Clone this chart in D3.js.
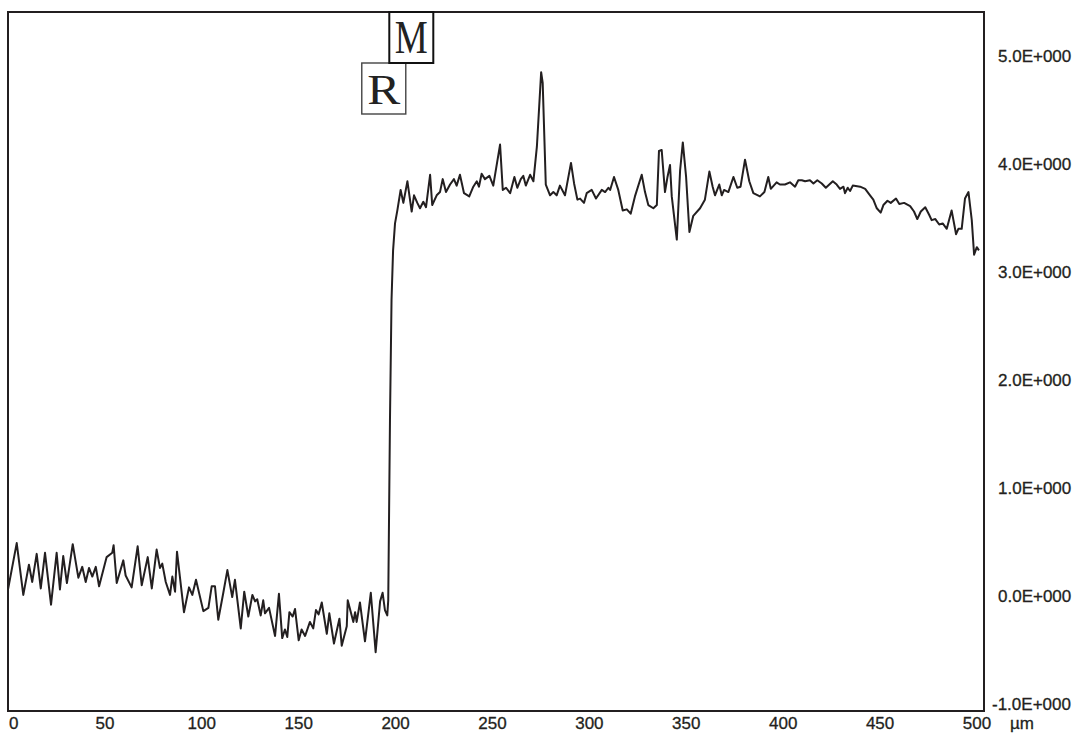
<!DOCTYPE html>
<html lang="en">
<head>
    <meta charset="UTF-8">
    <title>Step height profile</title>
    <script src="https://d3js.org/d3.v7.min.js"></script>
    <style>
        body { margin: 0; background: #fff; }
    </style>
</head>
<body>
<svg id="profile" width="1076" height="735"></svg>

<script>
    // scan position along the trace (um)
    const positionsUm = [
        0, 4.5, 7.9, 10.8, 12.5, 14.8, 16.9, 19.1, 22.2, 25.1, 26.8, 28.5, 30.4, 33.4, 36.3, 38.3, 40.1, 41.8, 43.5, 45.3,
        47.0, 50.9, 53.8, 54.5, 56.1, 59.5, 60.7, 63.8, 66.9, 69.0, 72.1, 74.2, 76.7, 78.4, 79.6, 81.4, 83.6, 84.8, 86.2, 87.2,
        90.8, 93.4, 95.1, 97.0, 100.8, 103.4, 105.1, 106.8, 108.5, 111.1, 113.2, 115.7, 117.1, 120.1, 121.9, 124.0, 126.1, 127.5, 128.6, 130.4,
        131.7, 132.6, 134.7, 137.8, 139.8, 141.5, 142.9, 144.1, 145.2, 146.9, 148.1, 150.0, 151.5, 153.3, 155.8, 157.5, 158.9, 160.3, 161.9, 164.5,
        165.8, 168.2, 171.0, 172.2, 174.8, 175.3, 178.2, 179.1, 179.9, 181.6, 184.2, 187.2, 189.7, 192.0, 193.3, 194.5, 195.7, 196.2, 197.1, 197.9,
        198.7, 199.7, 200.9, 202.6, 204.0, 206.1, 208.3, 209.5, 211.2, 212.6, 214.3, 215.7, 217.8, 218.9, 221.2, 222.9, 224.3, 226.0, 228.1, 230.1,
        231.5, 233.2, 235.3, 238.0, 240.1, 241.9, 243.0, 244.4, 246.1, 248.4, 250.4, 253.9, 255.3, 257.0, 259.1, 261.3, 262.8, 264.6, 265.9, 267.2,
        269.4, 271.1, 272.9, 275.1, 275.9, 277.5, 279.7, 281.4, 283.1, 284.8, 287.4, 290.5, 292.1, 293.8, 295.2, 297.2, 298.6, 301.2, 303.4, 306.4,
        308.1, 309.8, 310.7, 312.7, 314.9, 317.2, 319.3, 321.3, 323.5, 327.0, 328.7, 330.4, 333.0, 334.8, 335.9, 337.3, 339.0, 340.3, 341.6, 342.5,
        345.1, 346.8, 348.2, 349.9, 351.6, 353.6, 357.1, 359.6, 361.9, 363.6, 364.8, 367.0, 368.3, 369.5, 371.7, 374.3, 376.3, 378.0, 380.3, 382.5,
        384.6, 388.0, 390.3, 392.3, 393.6, 396.6, 398.3, 400.9, 403.5, 406.1, 407.8, 409.6, 411.3, 413.8, 415.6, 417.6, 419.9, 422.0, 425.6, 427.6,
        429.3, 431.1, 431.9, 433.3, 434.5, 435.9, 439.7, 442.3, 444.8, 446.5, 448.3, 450.3, 451.7, 453.8, 455.5, 458.2, 459.9, 462.4, 465.5, 467.5,
        469.2, 471.0, 473.3, 475.3, 476.6, 478.5, 480.5, 482.3, 484.4, 486.9, 489.2, 490.4, 492.1, 493.8, 495.6, 497.3, 498.5, 499.9, 501.0
    ];

    // measured height at each position
    const heightValues = [
        0.06, 0.49, 0.01, 0.29, 0.13, 0.39, 0.07, 0.40, -0.08, 0.40, 0.06, 0.37, 0.12, 0.48, 0.17, 0.27, 0.13, 0.26, 0.18, 0.27,
        0.09, 0.36, 0.40, 0.47, 0.12, 0.33, 0.19, 0.08, 0.46, 0.10, 0.36, 0.07, 0.43, 0.26, 0.30, 0.13, 0.01, 0.18, 0.04, 0.41,
        -0.15, 0.08, 0.01, 0.15, -0.14, -0.11, 0.09, 0.09, -0.22, 0.03, 0.24, -0.01, 0.15, -0.30, 0.04, -0.19, 0.01, -0.05, -0.03, -0.18,
        -0.04, -0.16, -0.11, -0.37, 0.02, -0.39, -0.31, -0.38, -0.15, -0.19, -0.12, -0.41, -0.31, -0.37, -0.24, -0.30, -0.13, -0.17, -0.06, -0.35,
        -0.16, -0.44, -0.21, -0.46, -0.28, -0.04, -0.24, -0.15, -0.24, -0.06, -0.42, 0.03, -0.52, -0.05, 0.03, -0.13, -0.18, -0.04, 1.63, 2.74,
        3.20, 3.45, 3.57, 3.76, 3.64, 3.84, 3.56, 3.71, 3.64, 3.59, 3.65, 3.60, 3.90, 3.62, 3.71, 3.74, 3.86, 3.74, 3.81, 3.86,
        3.80, 3.90, 3.73, 3.70, 3.79, 3.84, 3.79, 3.91, 3.86, 3.89, 3.80, 4.18, 3.76, 3.78, 3.73, 3.88, 3.78, 3.86, 3.89, 3.80,
        3.90, 3.84, 4.16, 4.85, 4.75, 3.81, 3.71, 3.74, 3.71, 3.80, 3.71, 4.01, 3.82, 3.67, 3.68, 3.64, 3.73, 3.76, 3.68, 3.76,
        3.74, 3.78, 3.76, 3.88, 3.76, 3.57, 3.58, 3.54, 3.70, 3.90, 3.74, 3.62, 3.59, 3.62, 4.12, 4.13, 3.74, 3.88, 3.99, 3.70,
        3.30, 3.94, 4.20, 3.88, 3.37, 3.52, 3.59, 3.67, 3.93, 3.79, 3.71, 3.81, 3.71, 3.76, 3.74, 3.88, 3.78, 3.79, 4.04, 3.84,
        3.73, 3.70, 3.74, 3.88, 3.77, 3.83, 3.81, 3.81, 3.83, 3.79, 3.85, 3.85, 3.84, 3.85, 3.82, 3.85, 3.82, 3.78, 3.84, 3.81,
        3.77, 3.79, 3.73, 3.78, 3.75, 3.80, 3.79, 3.77, 3.71, 3.67, 3.59, 3.55, 3.62, 3.66, 3.64, 3.68, 3.63, 3.64, 3.61, 3.56,
        3.49, 3.56, 3.60, 3.53, 3.48, 3.49, 3.44, 3.45, 3.40, 3.57, 3.35, 3.40, 3.40, 3.68, 3.74, 3.48, 3.16, 3.23, 3.20
    ];

    const xTicks = [0, 50, 100, 150, 200, 250, 300, 350, 400, 450, 500];
    const yTicks = [-1, 0, 1, 2, 3, 4, 5];
    const yTickLabels = ["-1.0E+000", "0.0E+000", "1.0E+000", "2.0E+000", "3.0E+000", "4.0E+000", "5.0E+000"];
    const xUnit = "\u00b5m";

    // cursor markers (M = measure, R = reference)
    const markerLabels = ["M", "R"];
    const markerUm = [208.1, 193.9];

    const svg = d3.select("#profile");
    const ink = "#231f20";
    const labelFont = "'Liberation Sans', Arial, sans-serif";

    const frame = { left: 8, top: 12, right: 984, bottom: 711 };

    const x = d3.scaleLinear().domain([0, 500]).range([8, 977]);
    const y = d3.scaleLinear().domain([-1, 5]).range([704, 56]);

    // plot frame
    svg.append("rect")
        .attr("x", frame.left)
        .attr("y", frame.top)
        .attr("width", frame.right - frame.left)
        .attr("height", frame.bottom - frame.top)
        .attr("fill", "none")
        .attr("stroke", ink)
        .attr("stroke-width", 2);

    // profile trace
    const points = positionsUm.map((p, i) => [p, heightValues[i]]);
    const line = d3.line()
        .x(d => x(d[0]))
        .y(d => y(d[1]));

    svg.append("path")
        .datum(points)
        .attr("d", line)
        .attr("fill", "none")
        .attr("stroke", ink)
        .attr("stroke-width", 2)
        .attr("stroke-linejoin", "round");

    // x tick labels (no tick marks in the original)
    svg.append("g")
        .selectAll("text")
        .data(xTicks)
        .enter().append("text")
        .attr("x", d => d === 0 ? x(d) + 1 : x(d))
        .attr("y", 729)
        .attr("text-anchor", d => d === 0 ? "start" : "middle")
        .attr("font-family", labelFont)
        .attr("font-size", 17)
        .attr("fill", ink)
        .attr("stroke", ink)
        .attr("stroke-width", 0.3)
        .text(d => d);

    svg.append("text")
        .attr("x", 1010)
        .attr("y", 729)
        .attr("font-family", labelFont)
        .attr("font-size", 17)
        .attr("fill", ink)
        .attr("stroke", ink)
        .attr("stroke-width", 0.3)
        .text(xUnit);

    // y tick labels on the right side
    svg.append("g")
        .selectAll("text")
        .data(yTicks)
        .enter().append("text")
        .attr("x", d => d < 0 ? 992 : 998)
        .attr("y", d => y(d))
        .attr("dy", "0.36em")
        .attr("font-family", labelFont)
        .attr("font-size", 17)
        .attr("fill", ink)
        .attr("stroke", ink)
        .attr("stroke-width", 0.3)
        .text((d, i) => yTickLabels[i]);

    // cursor boxes: R sits one row below M
    const boxW = 44, boxH = 51;
    const markers = markerLabels.map((lab, i) => ({ lab, um: markerUm[i], row: i }));

    const mk = svg.append("g")
        .selectAll("g")
        .data(markers.slice().reverse())
        .enter().append("g");

    mk.append("rect")
        .attr("x", d => x(d.um) - boxW / 2)
        .attr("y", d => frame.top + d.row * boxH)
        .attr("width", boxW)
        .attr("height", boxH)
        .attr("fill", "#fff")
        .attr("stroke", d => d.row === 0 ? "#111" : "#444")
        .attr("stroke-width", d => d.row === 0 ? 2 : 1.4);

    mk.append("text")
        .attr("x", d => x(d.um))
        .attr("y", d => frame.top + d.row * boxH + 41)
        .attr("text-anchor", "middle")
        .attr("font-family", "'Liberation Serif', 'Times New Roman', serif")
        .attr("font-size", d => d.row === 0 ? 46 : 42)
        .attr("textLength", 33)
        .attr("lengthAdjust", "spacingAndGlyphs")
        .attr("fill", "#222")
        .text(d => d.lab);
</script>

</body>
</html>
